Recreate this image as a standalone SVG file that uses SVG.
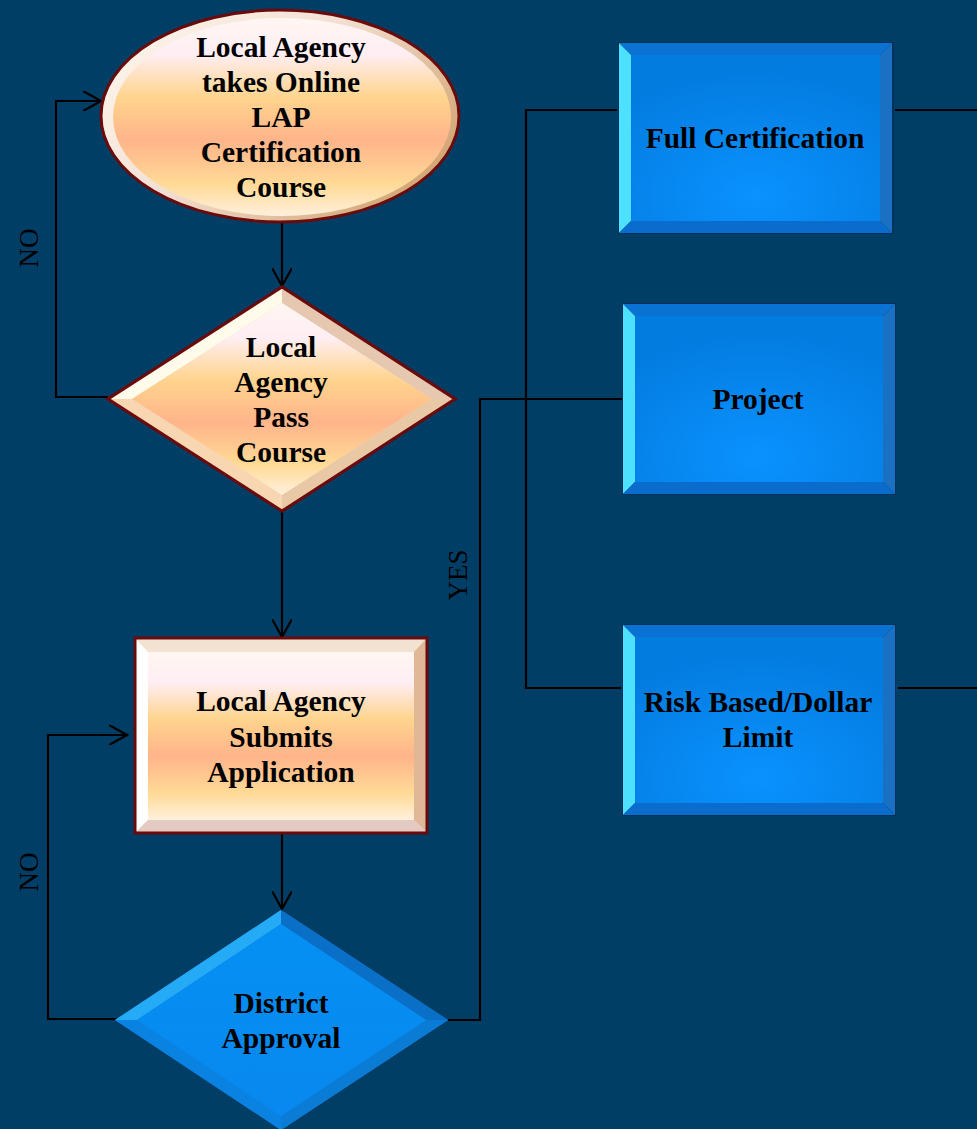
<svg xmlns="http://www.w3.org/2000/svg" width="977" height="1129" viewBox="0 0 977 1129">
  <defs>
    <style>
      .lbl { font-family: "Liberation Serif", "Times New Roman", serif; font-weight: bold; font-size: 29.5px; fill: #000; text-anchor: middle; }
      .side { font-family: "Liberation Serif", "Times New Roman", serif; font-size: 27px; fill: #000; text-anchor: middle; }
      .wire { fill: none; stroke: #000; stroke-width: 2.2; }
      .warm-edge { stroke: #6b0a0a; stroke-width: 3; }
    </style>
    <marker id="open-arrow" viewBox="0 0 20 20" markerUnits="userSpaceOnUse" markerWidth="20" markerHeight="20" refX="18" refY="10" orient="auto">
      <path d="M0,0 L18,10 L0,20" fill="none" stroke="#000" stroke-width="2.2"/>
    </marker>
    <!-- warm face -->
    <linearGradient id="warmFace" x1="0" y1="0" x2="0" y2="1">
      <stop offset="0" stop-color="#fff6f2"/>
      <stop offset="0.18" stop-color="#ffeef4"/>
      <stop offset="0.4" stop-color="#ffd48e"/>
      <stop offset="0.62" stop-color="#ffb48a"/>
      <stop offset="0.84" stop-color="#ffda96"/>
      <stop offset="1" stop-color="#fff0dc"/>
    </linearGradient>
    <linearGradient id="warmRim" x1="0" y1="0" x2="1" y2="0.6">
      <stop offset="0" stop-color="#fffaf0"/>
      <stop offset="0.5" stop-color="#f3e0d4"/>
      <stop offset="1" stop-color="#d4a878"/>
    </linearGradient>
    <!-- cool face -->
    <radialGradient id="coolFace" cx="0.5" cy="0.85" r="0.75">
      <stop offset="0" stop-color="#0a92ff"/>
      <stop offset="1" stop-color="#037ce0"/>
    </radialGradient>
    <linearGradient id="coolDiamond" x1="0" y1="0" x2="0" y2="1">
      <stop offset="0" stop-color="#0590f2"/>
      <stop offset="1" stop-color="#0888f0"/>
    </linearGradient>
  </defs>

  <rect width="977" height="1129" fill="#013e66"/>

  <!-- connectors -->
  <g id="connectors">
    <path class="wire" d="M282,223 V286" marker-end="url(#open-arrow)"/>
    <path class="wire" d="M108,397 H56 V101 H101" marker-end="url(#open-arrow)"/>
    <path class="wire" d="M282,511 V637" marker-end="url(#open-arrow)"/>
    <path class="wire" d="M282,833 V909" marker-end="url(#open-arrow)"/>
    <path class="wire" d="M128,1019 H48 V735 H127" marker-end="url(#open-arrow)"/>
    <path class="wire" d="M448,1020 H480 V399 H623"/>
    <path class="wire" d="M617,110 H526 V688 H621"/>
    <path class="wire" d="M895,110 H977"/>
    <path class="wire" d="M898,688 H977"/>
  </g>

  <!-- edge labels -->
  <g id="edge-labels">
    <text class="side" transform="translate(38,248) rotate(-90)">NO</text>
    <text class="side" transform="translate(38,872) rotate(-90)">NO</text>
    <text class="side" transform="translate(467,575) rotate(-90)">YES</text>
  </g>

  <!-- start: online course -->
  <g id="node-course">
    <ellipse cx="280" cy="116" rx="179" ry="106" fill="url(#warmRim)" class="warm-edge"/>
    <ellipse cx="282" cy="117" rx="169" ry="99" fill="url(#warmFace)"/>
    <text class="lbl" x="281" y="57">Local Agency</text>
    <text class="lbl" x="281" y="92">takes Online</text>
    <text class="lbl" x="281" y="127">LAP</text>
    <text class="lbl" x="281" y="162">Certification</text>
    <text class="lbl" x="281" y="197">Course</text>
  </g>

  <!-- decision: pass course -->
  <g id="node-pass">
    <polygon points="282,287 455,399 282,511 108,399" fill="#f0d8c0" class="warm-edge"/>
    <polygon points="282,287 282,303 132,399 108,399" fill="#fffbea"/>
    <polygon points="282,287 455,399 432,399 282,303" fill="#e6c8b0"/>
    <polygon points="455,399 282,511 282,495 432,399" fill="#e9c8a6"/>
    <polygon points="282,511 108,399 132,399 282,495" fill="#f9d6b2"/>
    <polygon points="282,303 432,399 282,495 132,399" fill="url(#warmFace)"/>
    <polygon points="282,287 455,399 282,511 108,399" fill="none" class="warm-edge"/>
    <text class="lbl" x="281" y="357">Local</text>
    <text class="lbl" x="281" y="392">Agency</text>
    <text class="lbl" x="281" y="427">Pass</text>
    <text class="lbl" x="281" y="462">Course</text>
  </g>

  <!-- process: submit application -->
  <g id="node-submit">
    <rect x="135" y="638" width="292" height="195" fill="#f0dcc8"/>
    <polygon points="135,638 427,638 414,652 148,652" fill="#f2e2d2"/>
    <polygon points="135,638 148,652 148,820 135,833" fill="#ffffff"/>
    <polygon points="427,638 427,833 414,820 414,652" fill="#e0b898"/>
    <polygon points="135,833 148,820 414,820 427,833" fill="#e4cac2"/>
    <rect x="148" y="652" width="266" height="168" fill="url(#warmFace)"/>
    <rect x="135" y="638" width="292" height="195" fill="none" class="warm-edge"/>
    <text class="lbl" x="281" y="711">Local Agency</text>
    <text class="lbl" x="281" y="747">Submits</text>
    <text class="lbl" x="281" y="782">Application</text>
  </g>

  <!-- decision: district approval -->
  <g id="node-district">
    <polygon points="281,910 448,1020 281,1130 115,1020" fill="#0880e0"/>
    <polygon points="281,910 281,924 137,1020 115,1020" fill="#25aaf6"/>
    <polygon points="281,910 448,1020 426,1020 281,924" fill="#0a6fc6"/>
    <polygon points="448,1020 281,1130 281,1116 426,1020" fill="#0a7cd6"/>
    <polygon points="281,1130 115,1020 137,1020 281,1116" fill="#0a82e2"/>
    <polygon points="281,924 426,1020 281,1116 137,1020" fill="url(#coolDiamond)"/>
    <text class="lbl" x="281" y="1013">District</text>
    <text class="lbl" x="281" y="1048">Approval</text>
  </g>

  <!-- certification types -->
  <g id="node-full">
    <rect x="618" y="42" width="276" height="192" fill="#01335a"/>
    <polygon points="619,43 892,43 880,55 631,55" fill="#0a72d2"/>
    <polygon points="619,43 631,55 631,221 619,233" fill="#4ee0ff"/>
    <polygon points="892,43 892,233 880,221 880,55" fill="#1a70c2"/>
    <polygon points="619,233 631,221 880,221 892,233" fill="#0a6ccc"/>
    <rect x="631" y="55" width="249" height="166" fill="url(#coolFace)"/>
    <text class="lbl" x="755" y="148">Full Certification</text>
  </g>

  <g id="node-project">
    <rect x="622" y="303" width="274" height="192" fill="#01335a"/>
    <polygon points="623,304 895,304 883,316 635,316" fill="#0a72d2"/>
    <polygon points="623,304 635,316 635,482 623,494" fill="#4ee0ff"/>
    <polygon points="895,304 895,494 883,482 883,316" fill="#1a70c2"/>
    <polygon points="623,494 635,482 883,482 895,494" fill="#0a6ccc"/>
    <rect x="635" y="316" width="248" height="166" fill="url(#coolFace)"/>
    <text class="lbl" x="758" y="409">Project</text>
  </g>

  <g id="node-risk">
    <rect x="622" y="624" width="274" height="192" fill="#01335a"/>
    <polygon points="623,625 895,625 883,637 635,637" fill="#0a72d2"/>
    <polygon points="623,625 635,637 635,803 623,815" fill="#4ee0ff"/>
    <polygon points="895,625 895,815 883,803 883,637" fill="#1a70c2"/>
    <polygon points="623,815 635,803 883,803 895,815" fill="#0a6ccc"/>
    <rect x="635" y="637" width="248" height="166" fill="url(#coolFace)"/>
    <text class="lbl" x="758" y="712">Risk Based/Dollar</text>
    <text class="lbl" x="758" y="747">Limit</text>
  </g>
</svg>
